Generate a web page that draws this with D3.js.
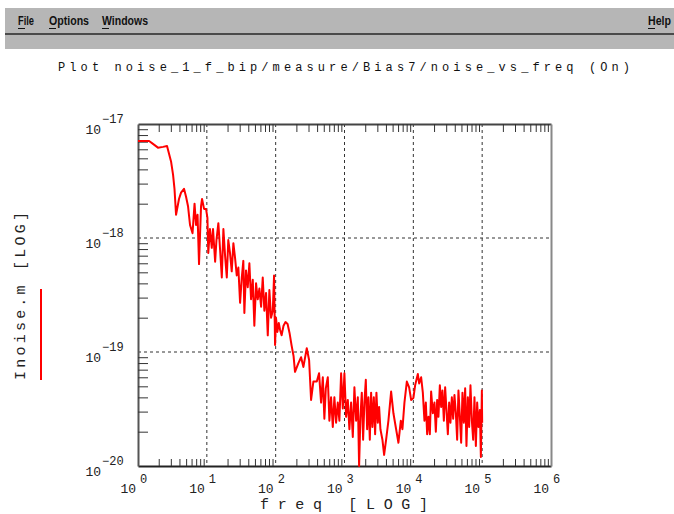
<!DOCTYPE html>
<html><head><meta charset="utf-8">
<script src="https://cdn.jsdelivr.net/npm/d3@7"></script>
<style>body{margin:0;background:#fff;} svg{display:block}</style>
</head><body><svg id="c" width="674" height="514"></svg>
<script>
const menuItems = ["File", "Options", "Windows"];
const helpItem = "Help";
const titleText = "Plot noise_1_f_bip/measure/Bias7/noise_vs_freq (On)";
const xLabel = "freq   [LOG]";
const yLabel = "Inoise.m  [LOG]";
const xTickExps = [0, 1, 2, 3, 4, 5, 6];
const yTickExps = [-17, -18, -19, -20];

const freq = [1.00,1.18,1.45,1.65,1.95,2.31,2.64,3.02,3.23,3.39,3.57,3.94,4.22,4.66,4.99,5.33,5.70,6.20,6.63,6.97,
7.33,7.70,8.24,8.52,9.11,9.74,10.2,10.5,11.1,11.8,12.3,13.2,13.8,14.7,15.6,16.5,17.4,18.4,19.5,20.5,
21.7,23.0,24.3,25.7,27.2,28.7,30.4,32.2,33.9,35.1,37.1,39.3,41.5,43.9,46.5,49.0,51.9,54.9,58.0,61.4,
64.9,68.5,72.5,76.8,81.0,85.7,90.8,94.8,98.0,101,106,111,116,122,130,139,149,159,170,182,
191,214,234,253,283,306,327,353,396,427,457,484,510,535,572,603,638,676,713,755,
799,843,893,945,997,1055,1117,1178,1247,1320,1393,1475,1561,1630,1703,1784,1864,1946,2040,2131,
2226,2332,2436,2544,2667,2785,2909,3048,3184,3326,3556,3763,4024,4346,4757,5138,5623,6073,6581,6944,
7426,8044,8690,9290,10030,10620,11630,12140,12990,13740,14500,15190,15870,16580,17370,18140,19200,20270,21230,22180,
23170,24280,25360,26490,27760,28990,30280,31730,33140,34610,36270,37880,39570,41470,43310,45240,47420,49530,51730,54200,
56610,59130,61970,64720,67600,70850,74000,77290,81000,84590,88350,92600,95750,99000,100000];

const noise = [7.1e-18,7.1e-18,7.1e-18,6.7e-18,6.2e-18,6.3e-18,6.4e-18,4.7e-18,3.6e-18,2.7e-18,1.6e-18,2.2e-18,2.5e-18,2.7e-18,2.3e-18,1.9e-18,1.3e-18,1.1e-18,2.0e-18,1.3e-18,
1.6e-18,5.9e-19,1.9e-18,2.2e-18,1.8e-18,1.8e-18,1.5e-18,7.4e-19,1.2e-18,8.2e-19,1.2e-18,6.2e-19,9.6e-19,1.35e-18,7.8e-19,4.5e-19,1.2e-18,7.0e-19,4.5e-19,9.6e-19,
7.4e-19,5.1e-19,9.0e-19,6.7e-19,4.7e-19,5.5e-19,2.7e-19,4.5e-19,6.3e-19,2.2e-19,5.2e-19,3.7e-19,6.0e-19,2.9e-19,4.3e-19,1.7e-19,4.0e-19,2.9e-19,3.6e-19,2.5e-19,
4.5e-19,2.3e-19,3.3e-19,1.4e-19,3.5e-19,2.0e-19,2.3e-19,4.7e-19,1.15e-19,2.0e-19,1.5e-19,1.8e-19,1.56e-19,1.4e-19,1.7e-19,1.83e-19,1.76e-19,1.47e-19,1.15e-19,9.2e-20,
6.7e-20,8.0e-20,9.0e-20,7.4e-20,1.08e-19,8.5e-20,3.8e-20,5.5e-20,5.5e-20,6.5e-20,3.6e-20,6.0e-20,2.6e-20,4.8e-20,6.0e-20,2.5e-20,4.0e-20,2.2e-20,4.0e-20,2.4e-20,
3.6e-20,2.5e-20,6.5e-20,3.2e-20,6.5e-20,2.7e-20,3.8e-20,2.1e-20,3.6e-20,1.8e-20,4.9e-20,2.5e-20,4.0e-20,1.0e-20,2.7e-20,4.4e-20,1.7e-20,3.6e-20,5.7e-20,2.1e-20,
4.0e-20,1.7e-20,4.4e-20,2.2e-20,4.0e-20,1.9e-20,4.4e-20,2.4e-20,3.3e-20,2.1e-20,1.7e-20,1.25e-20,1.7e-20,2.5e-20,4.5e-20,2.9e-20,2.1e-20,1.6e-20,2.5e-20,2.1e-20,
3.6e-20,5.5e-20,4.9e-20,3.8e-20,3.95e-20,5.1e-20,6.4e-20,5.3e-20,6.0e-20,4.4e-20,2.5e-20,3.6e-20,1.9e-20,2.7e-20,1.9e-20,4.5e-20,2.9e-20,3.6e-20,2.0e-20,3.8e-20,
2.7e-20,5.1e-20,3.3e-20,4.6e-20,2.5e-20,4.9e-20,3.1e-20,1.9e-20,3.6e-20,2.4e-20,4.0e-20,2.6e-20,4.2e-20,2.9e-20,1.7e-20,4.6e-20,2.7e-20,1.6e-20,4.4e-20,2.4e-20,
4.8e-20,1.5e-20,4.0e-20,2.2e-20,5.1e-20,2.5e-20,1.7e-20,4.0e-20,1.5e-20,3.6e-20,2.2e-20,3.1e-20,1.2e-20,4.6e-20,2.4e-20];

const svg = d3.select("#c");
const X0 = 138, X1 = 551, Y0 = 124, Y1 = 466;
const x = d3.scaleLog().domain([1, 1e6]).range([X0, X1]);
const y = d3.scaleLog().domain([1e-20, 1e-17]).range([Y1, Y0]);

// ---- menu bar
svg.append("rect").attr("x", 5).attr("y", 8).attr("width", 669).attr("height", 26).attr("fill", "#b6b6b6");
svg.append("line").attr("x1", 5).attr("x2", 674).attr("y1", 34).attr("y2", 34).attr("stroke", "#4a4a4a").attr("stroke-width", 2);
svg.append("rect").attr("x", 5).attr("y", 35).attr("width", 669).attr("height", 14).attr("fill", "#b6b6b6");
const menuX = [18, 49, 102];
const menuW = [16, 40, 46];
menuItems.forEach((m, i) => {
  svg.append("text").attr("x", menuX[i]).attr("y", 25).attr("font-family", "Liberation Sans, Arial, sans-serif")
    .attr("font-weight", "bold").attr("font-size", 12).attr("fill", "#111")
    .attr("textLength", menuW[i]).attr("lengthAdjust", "spacingAndGlyphs").text(m);
  svg.append("line").attr("x1", menuX[i]).attr("x2", menuX[i] + 7).attr("y1", 28.5).attr("y2", 28.5).attr("stroke", "#111").attr("stroke-width", 1);
});
svg.append("text").attr("x", 648).attr("y", 25).attr("font-family", "Liberation Sans, Arial, sans-serif")
  .attr("font-weight", "bold").attr("font-size", 12).attr("fill", "#111")
  .attr("textLength", 23).attr("lengthAdjust", "spacingAndGlyphs").text(helpItem);
svg.append("line").attr("x1", 648).attr("x2", 655).attr("y1", 28.5).attr("y2", 28.5).attr("stroke", "#111").attr("stroke-width", 1);

// ---- title
svg.append("text").attr("x", 58).attr("y", 71).attr("font-family", "Liberation Mono, DejaVu Sans Mono, monospace")
  .attr("font-size", 12).attr("fill", "#111").attr("textLength", 572).attr("lengthAdjust", "spacing").text(titleText);

// ---- minor tick values
const minorX = [];
for (let d = 0; d < 6; d++) for (let k = 2; k <= 9; k++) minorX.push(k * Math.pow(10, d));
const minorY = [];
for (let d = -20; d < -17; d++) for (let k = 2; k <= 9; k++) minorY.push(k * Math.pow(10, d));

// ---- grid (dashed decade lines)
const gridX = xTickExps.slice(1, -1).map(e => Math.pow(10, e));
const gridY = yTickExps.slice(1, -1).map(e => Math.pow(10, e));
svg.append("g").selectAll("line").data(gridX).join("line")
  .attr("x1", d => x(d)).attr("x2", d => x(d)).attr("y1", Y0).attr("y2", Y1)
  .attr("stroke", "#333").attr("stroke-width", 1).attr("stroke-dasharray", "3,3");
svg.append("g").selectAll("line").data(gridY).join("line")
  .attr("x1", X0).attr("x2", X1).attr("y1", d => y(d)).attr("y2", d => y(d))
  .attr("stroke", "#333").attr("stroke-width", 1).attr("stroke-dasharray", "3,3");

// ---- axes with inward ticks
function styleAxis(g, color) {
  g.select(".domain").attr("stroke", color).attr("stroke-width", 2);
  g.selectAll(".tick line").attr("stroke", "#333").attr("stroke-width", 1);
}
svg.append("g").attr("transform", `translate(0,${Y1})`)
  .call(d3.axisBottom(x).tickValues(minorX).tickSize(-7).tickSizeOuter(0).tickFormat(""))
  .call(g => styleAxis(g, "#222"));
svg.append("g").attr("transform", `translate(0,${Y0})`)
  .call(d3.axisTop(x).tickValues(minorX).tickSize(-8).tickSizeOuter(0).tickFormat(""))
  .call(g => styleAxis(g, "#444"));
svg.append("g").attr("transform", `translate(${X0},0)`)
  .call(d3.axisLeft(y).tickValues(minorY).tickSize(-10).tickSizeOuter(0).tickFormat(""))
  .call(g => styleAxis(g, "#555"));
svg.append("g").attr("transform", `translate(${X1},0)`)
  .call(d3.axisRight(y).tickValues([]).tickSizeOuter(0))
  .call(g => styleAxis(g, "#888"));

// ---- data line
const pts = freq.map((f, i) => ({ f: f, v: noise[i] }));
svg.append("path").datum(pts)
  .attr("fill", "none").attr("stroke", "#ff0000").attr("stroke-width", 2).attr("stroke-linejoin", "round")
  .attr("d", d3.line().x(d => x(d.f)).y(d => y(d.v)));

// ---- tick labels
const lblFont = "Liberation Mono, DejaVu Sans Mono, monospace";
const xl = svg.append("g");
xTickExps.forEach(e => {
  const px = x(Math.pow(10, e));
  xl.append("text").attr("x", px - 2).attr("y", 493).attr("text-anchor", "end")
    .attr("font-family", lblFont).attr("font-size", 13).attr("fill", "#222").text("10");
  xl.append("text").attr("x", px + 2).attr("y", 483)
    .attr("font-family", lblFont).attr("font-size", 12).attr("fill", "#222").text(String(e));
});
const yl = svg.append("g");
yTickExps.forEach(e => {
  const py = y(Math.pow(10, e));
  yl.append("text").attr("x", 101).attr("y", py + 10).attr("text-anchor", "end")
    .attr("font-family", lblFont).attr("font-size", 13).attr("fill", "#222").text("10");
  yl.append("text").attr("x", 102).attr("y", py - 1)
    .attr("font-family", lblFont).attr("font-size", 12).attr("fill", "#222").text("\u2212" + String(-e));
});

// ---- axis labels
svg.append("text").attr("x", 260).attr("y", 509).attr("font-family", lblFont).attr("font-size", 15)
  .attr("fill", "#222").attr("textLength", 168).attr("lengthAdjust", "spacing").text(xLabel);
svg.append("text").attr("transform", "translate(25,380) rotate(-90)").attr("font-family", lblFont).attr("font-size", 15)
  .attr("fill", "#222").attr("textLength", 168).attr("lengthAdjust", "spacing").text(yLabel);

// ---- legend swatch
svg.append("line").attr("x1", 41).attr("x2", 41).attr("y1", 289).attr("y2", 380)
  .attr("stroke", "#ff0000").attr("stroke-width", 2);
</script>
</body></html>
